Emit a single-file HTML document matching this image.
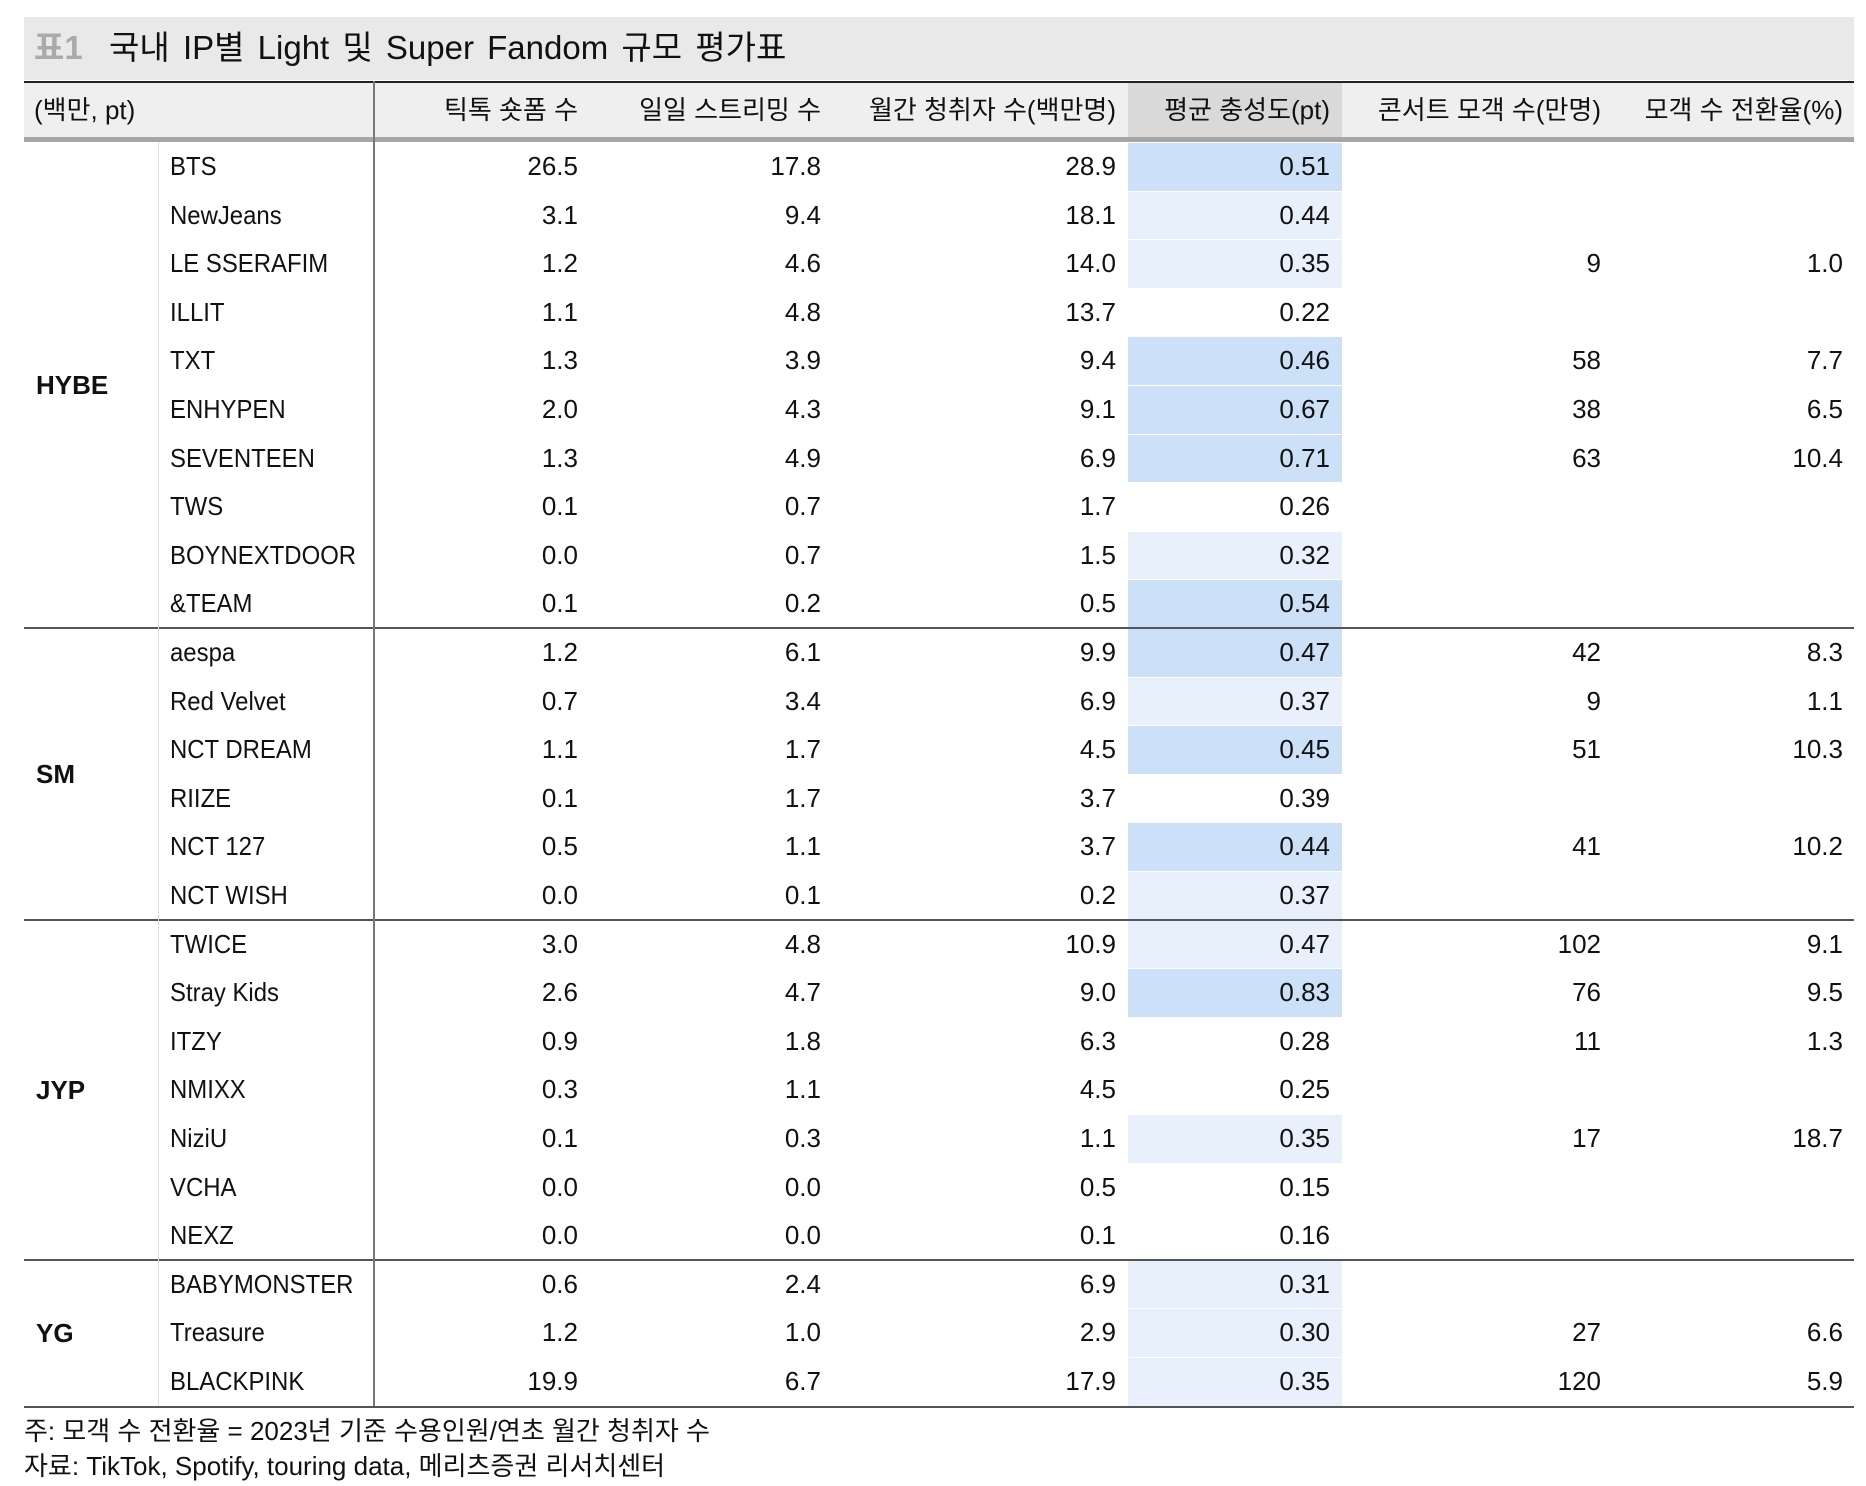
<!DOCTYPE html>
<html><head><meta charset="utf-8">
<style>
body{margin:0;width:1866px;height:1486px;background:#fff;position:relative;overflow:hidden;font-family:"Liberation Sans","Noto Sans CJK KR",sans-serif;color:#111}
.a{position:absolute;white-space:nowrap}
.t{font-size:26px;line-height:30px}
.r{text-align:right}
.n{transform:scaleX(0.92);transform-origin:left center}
</style></head><body>
<div class="a" style="left:24px;top:17px;width:1830px;height:63px;background:#e9e9e9"></div>
<div class="a" style="left:34px;top:28px;font-size:33px;line-height:40px;word-spacing:4px"><span style="color:#aaa;font-weight:bold">표1</span>&nbsp; 국내 IP별 Light 및 Super Fandom 규모 평가표</div>
<div class="a" style="left:24px;top:81px;width:1830px;height:56px;background:#efefef;border-top:2px solid #222"></div>
<div class="a" style="left:1128px;top:83px;width:214px;height:54px;background:#d9d9d9"></div>
<div class="a" style="left:24px;top:137px;width:1830px;height:5px;background:#a6a6a6"></div>
<div class="a t" style="left:34px;top:95px">(백만, pt)</div>
<div id="tb"></div>
<div class="a" style="left:24px;top:1411px;font-size:26px">주: 모객 수 전환율 = 2023년 기준 수용인원/연초 월간 청취자 수</div>
<div class="a" style="left:24px;top:1446px;font-size:26px">자료: TikTok, Spotify, touring data, 메리츠증권 리서치센터</div>
<script>
const headers=["틱톡 숏폼 수","일일 스트리밍 수","월간 청취자 수(백만명)","평균 충성도(pt)","콘서트 모객 수(만명)","모객 수 전환율(%)"];
const groups=[["HYBE",0,10],["SM",10,16],["JYP",16,23],["YG",23,26]];
const names=["BTS","NewJeans","LE SSERAFIM","ILLIT","TXT","ENHYPEN","SEVENTEEN","TWS","BOYNEXTDOOR","&TEAM","aespa","Red Velvet","NCT DREAM","RIIZE","NCT 127","NCT WISH","TWICE","Stray Kids","ITZY","NMIXX","NiziU","VCHA","NEXZ","BABYMONSTER","Treasure","BLACKPINK"];
const tiktok=["26.5","3.1","1.2","1.1","1.3","2.0","1.3","0.1","0.0","0.1","1.2","0.7","1.1","0.1","0.5","0.0","3.0","2.6","0.9","0.3","0.1","0.0","0.0","0.6","1.2","19.9"];
const streams=["17.8","9.4","4.6","4.8","3.9","4.3","4.9","0.7","0.7","0.2","6.1","3.4","1.7","1.7","1.1","0.1","4.8","4.7","1.8","1.1","0.3","0.0","0.0","2.4","1.0","6.7"];
const listeners=["28.9","18.1","14.0","13.7","9.4","9.1","6.9","1.7","1.5","0.5","9.9","6.9","4.5","3.7","3.7","0.2","10.9","9.0","6.3","4.5","1.1","0.5","0.1","6.9","2.9","17.9"];
const loyalty=["0.51","0.44","0.35","0.22","0.46","0.67","0.71","0.26","0.32","0.54","0.47","0.37","0.45","0.39","0.44","0.37","0.47","0.83","0.28","0.25","0.35","0.15","0.16","0.31","0.30","0.35"];
const concert=["","","9","","58","38","63","","","","42","9","51","","41","","102","76","11","","17","","","","27","120"];
const conversion=["","","1.0","","7.7","6.5","10.4","","","","8.3","1.1","10.3","","10.2","","9.1","9.5","1.3","","18.7","","","","6.6","5.9"];
const shade=[2,1,1,0,2,2,2,0,1,2,2,1,2,0,2,1,1,2,0,0,1,0,0,1,1,1];
const tb=document.getElementById('tb');
const top0=142,rowH=48.6;
const rights=[578,821,1116,1330,1601,1843];
function mk(cls,css,txt){const d=document.createElement('div');d.className=cls;d.style.cssText=css;if(txt!==undefined)d.textContent=txt;tb.appendChild(d);return d;}
headers.forEach((h,i)=>{const d=mk('a t r','right:'+(1866-rights[i])+'px;top:95px',h);

});
const cols=[tiktok,streams,listeners,loyalty,concert,conversion];
names.forEach((n,i)=>{const y=top0+i*rowH;
if(shade[i]){const b=mk('a','left:1128px;top:'+(y+1)+'px;width:214px;height:'+(rowH-1)+'px;background:'+(shade[i]==2?'#cce0f7':'#e8f0fb'));

}
const nd=mk('a t n','left:170px;top:'+(y+9)+'px',n);


cols.forEach((c,j)=>{if(!c[i])return;const v=mk('a t r','right:'+(1866-rights[j])+'px;top:'+(y+9)+'px',c[i]);

});});
groups.forEach((g,k)=>{const y1=top0+g[1]*rowH,y2=top0+g[2]*rowH;
const l=mk('a t','left:36px;font-weight:bold;top:'+((y1+y2)/2-15)+'px',g[0]);


if(k>0){const s=mk('a','left:24px;width:1830px;height:2px;background:#555;top:'+(y1-1)+'px');

}});
const yEnd=top0+names.length*rowH;
const bl=mk('a','left:24px;width:1830px;height:2px;background:#555;top:'+yEnd+'px');


const v1=mk('a','left:373px;width:2px;background:#777;top:81px;height:'+(yEnd-81)+'px');


const v2=mk('a','left:158px;width:1px;background:#ddd;top:142px;height:'+(yEnd-142)+'px');


</script>
</body></html>
